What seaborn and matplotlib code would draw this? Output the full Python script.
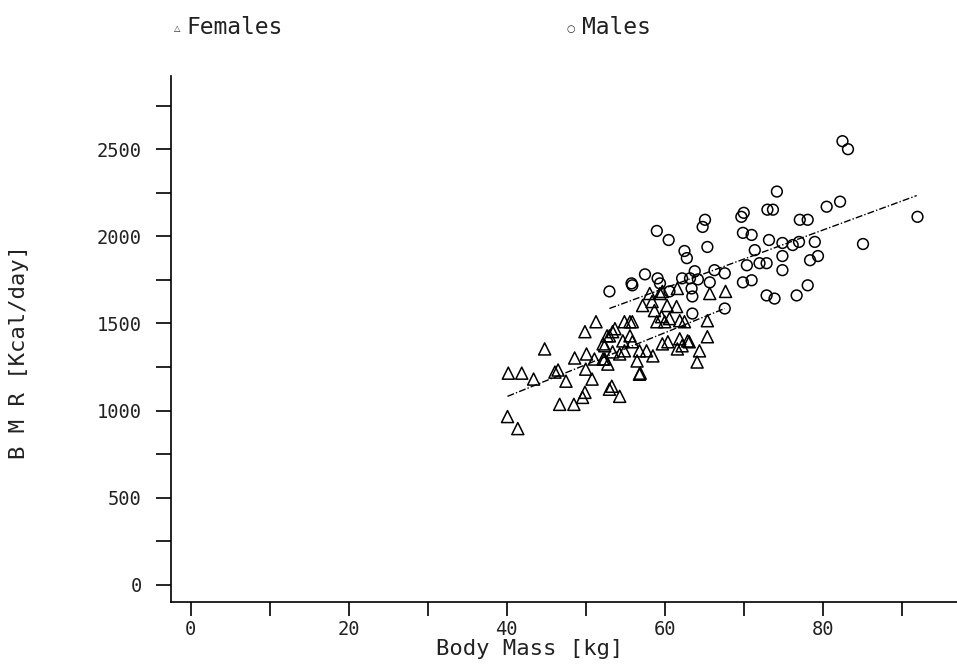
import matplotlib
matplotlib.use("Agg")
import matplotlib.pyplot as plt
import seaborn as sns
import pandas as pd

# ---- data ----
female_mass = [40.2, 41.9, 43.4, 44.8, 46.1, 46.5, 47.5, 48.6, 50.1, 49.9, 51.3, 50.8,
               49.9, 49.6, 46.7, 48.5, 40.1, 41.4, 50.0, 51.1, 52.2, 52.8, 53.0, 52.4,
               52.7, 53.4, 57.2, 58.4, 58.7, 59.7, 60.3, 59.0, 59.6, 60.0, 60.6, 61.9,
               62.5, 61.5, 54.9, 55.6, 55.9, 53.7, 53.0, 52.2, 54.7, 55.6, 55.9, 54.9,
               54.3, 53.4, 52.4, 56.8, 57.7, 58.5, 56.5, 59.7, 60.4, 61.9, 62.2, 62.9,
               61.6, 65.4, 64.4, 64.1, 56.8, 53.3, 54.3, 65.4, 65.7, 67.7, 58.1, 59.4,
               61.6, 56.9, 63.1]
female_bmr = [1215, 1215, 1181, 1354, 1221, 1233, 1169, 1302, 1325, 1453, 1510, 1181,
              1105, 1076, 1036, 1036, 966, 897, 1238, 1296, 1296, 1267, 1123, 1372,
              1429, 1453, 1603, 1626, 1574, 1684, 1603, 1510, 1539, 1510, 1528, 1516,
              1510, 1597, 1510, 1510, 1510, 1470, 1429, 1383, 1400, 1429, 1395, 1343,
              1325, 1337, 1296, 1343, 1343, 1314, 1285, 1383, 1395, 1412, 1372, 1400,
              1354, 1424, 1343, 1279, 1209, 1140, 1082, 1516, 1672, 1684, 1672, 1672,
              1701, 1215, 1395]

male_mass = [82.5, 83.2, 74.2, 82.2, 80.5, 73.0, 73.7, 70.0, 69.7, 65.1, 64.8, 77.1,
             78.1, 59.0, 60.5, 69.9, 71.0, 73.2, 62.5, 62.8, 65.4, 71.4, 74.9, 76.2,
             77.0, 79.0, 74.9, 78.4, 79.4, 85.1, 92.0, 70.4, 72.0, 72.9, 74.9, 57.5,
             59.1, 59.4, 55.8, 55.9, 53.0, 63.8, 66.3, 67.6, 62.2, 63.2, 64.2, 65.7,
             60.6, 63.4, 63.5, 69.9, 71.0, 72.9, 73.9, 76.7, 78.1, 63.5, 67.6]
male_bmr = [2546, 2500, 2257, 2199, 2170, 2153, 2153, 2135, 2112, 2095, 2054, 2095,
            2095, 2031, 1979, 2020, 2008, 1979, 1916, 1875, 1939, 1921, 1962, 1950,
            1968, 1968, 1887, 1863, 1887, 1956, 2112, 1834, 1846, 1846, 1806, 1782,
            1759, 1730, 1730, 1719, 1684, 1800, 1806, 1788, 1759, 1759, 1753, 1736,
            1684, 1701, 1655, 1736, 1748, 1661, 1643, 1661, 1719, 1557, 1586]

# regression lines (end points)
female_fit_mass = [40.1, 67.6]
female_fit_bmr = [1082, 1586]
male_fit_mass = [53.0, 91.9]
male_fit_bmr = [1586, 2234]

x_ticks = [0, 20, 40, 60, 80]
x_minor = [10, 30, 50, 70, 90]
y_ticks = [0, 500, 1000, 1500, 2000, 2500]
y_minor = [250, 750, 1250, 1750, 2250, 2750]

df_f = pd.DataFrame({"mass": female_mass, "bmr": female_bmr})
df_m = pd.DataFrame({"mass": male_mass, "bmr": male_bmr})

sns.set_style("white")
plt.rcParams["font.family"] = ["DejaVu Sans Mono", "DejaVu Sans"]

fig = plt.figure(figsize=(9.57, 6.65), dpi=100)
ax = fig.add_axes([171 / 957, 1 - 602 / 665, 1 - 171 / 957, (602 - 76) / 665])

sns.scatterplot(data=df_f, x="mass", y="bmr", marker="^", s=75,
                facecolor="none", edgecolor="black", linewidth=1.1, ax=ax)
sns.scatterplot(data=df_m, x="mass", y="bmr", marker="o", s=60,
                facecolor="none", edgecolor="black", linewidth=1.1, ax=ax)
sns.lineplot(x=female_fit_mass, y=female_fit_bmr, color="black", lw=1.0,
             linestyle=(0, (5, 1.5, 1, 1.5)), ax=ax)
sns.lineplot(x=male_fit_mass, y=male_fit_bmr, color="black", lw=1.0,
             linestyle=(0, (5, 1.5, 1, 1.5)), ax=ax)

ax.set_xlim(-2.5, 97)
ax.set_ylim(-98, 2920)
ax.set_xticks(x_ticks)
ax.set_xticks(x_minor, minor=True)
ax.set_yticks(y_ticks)
ax.set_yticks(y_minor, minor=True)
ax.set_xticklabels([str(v) for v in x_ticks])
ax.set_yticklabels([str(v) for v in y_ticks])

for s in ["top", "right"]:
    ax.spines[s].set_visible(False)
for s in ["left", "bottom"]:
    ax.spines[s].set_color("black")
    ax.spines[s].set_linewidth(1.2)

ax.tick_params(axis="x", which="both", direction="out", length=10, width=1.2,
               color="black", pad=3, labelsize=13.5, labelcolor="#222222", bottom=True)
ax.tick_params(axis="y", which="both", direction="out", length=11, width=1.2,
               color="black", pad=10, labelsize=13.5, labelcolor="#222222", left=True)

ax.set_xlabel("Body Mass [kg]", fontsize=16, color="#222222")
ax.xaxis.set_label_coords((530 - 171) / 786, -(639 - 602) / 526)
ax.set_ylabel("B M R [Kcal/day]", fontsize=16, color="#222222")
ax.yaxis.set_label_coords((29 - 171) / 786, 0.475)

# legend in the top margin
fig.text(177 / 957, 1 - 29 / 665, "\u25b3", fontsize=6, ha="center", va="center",
         family=["DejaVu Sans"])
fig.text(186 / 957, 1 - 28 / 665, "Females", fontsize=16.5, ha="left", va="center",
         color="#222222")
fig.text(571 / 957, 1 - 29 / 665, "\u25cb", fontsize=7, ha="center", va="center",
         family=["DejaVu Sans"])
fig.text(582 / 957, 1 - 28 / 665, "Males", fontsize=16.5, ha="left", va="center",
         color="#222222")

fig.savefig("out.png", dpi=100, facecolor="white")
